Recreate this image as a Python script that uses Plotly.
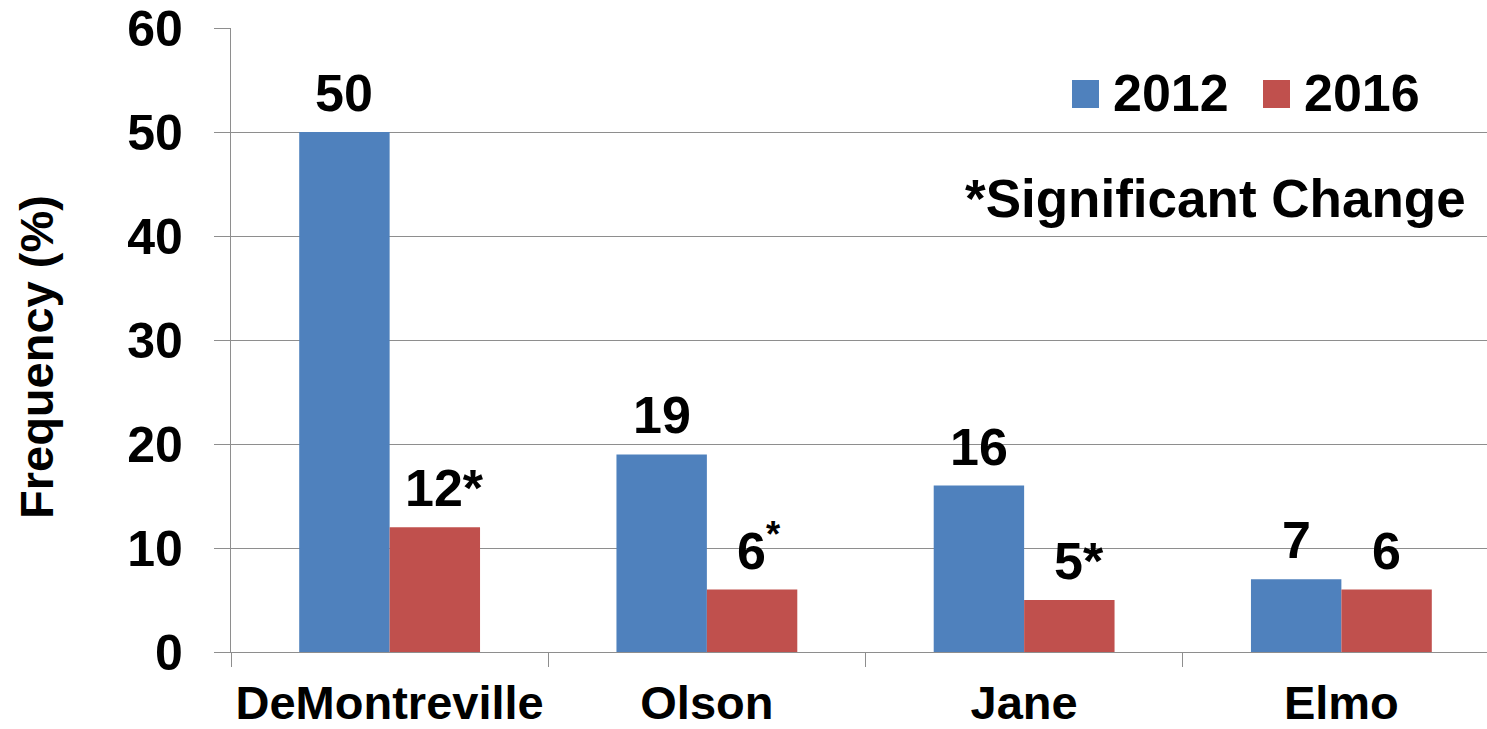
import plotly.graph_objects as go

# ---- data ----
categories = ["DeMontreville", "Olson", "Jane", "Elmo"]
series_names = ["2012", "2016"]
values_2012 = [50, 19, 16, 7]
values_2016 = [12, 6, 5, 6]
marks_2012 = ["", "", "", ""]
marks_2016 = ["*", "<sup>*</sup>", "*", ""]
y_ticks = [0, 10, 20, 30, 40, 50, 60]
note_text = "*Significant Change"
y_title = "Frequency (%)"

colors = ["#4F81BD", "#C0504D"]
axis_gray = "#8E8E8E"
FONT = "Liberation Sans, Arial, sans-serif"

W, H = 1487, 729
L, R, T, B = 231, 0, 28, 77
BARGAP = 0.43
LABEL_SIZE = 52
AST_EM = 0.389  # asterisk advance width (em) in Arial/Liberation Sans bold

def px2paper(px, py):
    return (px - L) / (W - L - R), (H - B - py) / (H - T - B)

fig = go.Figure()
series = [(values_2012, marks_2012), (values_2016, marks_2016)]
for k, (vals, marks) in enumerate(series):
    fig.add_trace(go.Bar(
        x=categories, y=vals, name=series_names[k],
        marker=dict(color=colors[k], line=dict(width=0)),
        showlegend=False,
    ))

annotations = []
# data labels above bars (number centred on bar, mark appended to the right)
for k, (vals, marks) in enumerate(series):
    off = (k - 0.5) * (1 - BARGAP) / 2
    for i, (v, m) in enumerate(zip(vals, marks)):
        if not m:
            shift = 0
        elif m.startswith("<sup>"):
            shift = AST_EM * LABEL_SIZE * 0.7 / 2
        else:
            shift = AST_EM * LABEL_SIZE / 2
        annotations.append(dict(
            x=i + off, y=v, xref="x", yref="y",
            text=f"{v}{m}", showarrow=False,
            xanchor="center", yanchor="bottom", yshift=8, xshift=shift,
            font=dict(family=FONT, size=LABEL_SIZE, color="black", weight="bold"),
        ))

# manual legend
legend_items = [(1072, series_names[0], colors[0]), (1263, series_names[1], colors[1])]
shapes = []
for sx, name, col in legend_items:
    x0, y0 = px2paper(sx, 108)
    x1, y1 = px2paper(sx + 27, 80)
    shapes.append(dict(type="rect", xref="paper", yref="paper",
                       x0=x0, y0=y0, x1=x1, y1=y1,
                       fillcolor=col, line=dict(width=0)))
    tx, ty = px2paper(sx + 39, 93)
    annotations.append(dict(
        x=tx, y=ty, xref="paper", yref="paper", text=name, showarrow=False,
        xanchor="left", yanchor="middle",
        font=dict(family=FONT, size=52, color="black", weight="bold"),
    ))

nx, ny = px2paper(1468, 198)
annotations.append(dict(
    x=nx, y=ny, xref="paper", yref="paper", text=note_text, showarrow=False,
    xanchor="right", yanchor="middle",
    font=dict(family=FONT, size=53, color="black", weight="bold"),
))

tx, ty = px2paper(36, 357)
annotations.append(dict(
    x=tx, y=ty, xref="paper", yref="paper", text=y_title, showarrow=False,
    textangle=-90, xanchor="center", yanchor="middle",
    font=dict(family=FONT, size=47, color="black", weight="bold"),
))

fig.update_layout(
    width=W, height=H, autosize=False,
    margin=dict(l=L, r=R, t=T, b=B, pad=0),
    paper_bgcolor="white", plot_bgcolor="white",
    barmode="group", bargap=BARGAP, bargroupgap=0,
    showlegend=False,
    annotations=annotations, shapes=shapes,
    font=dict(family=FONT, color="black"),
)
fig.update_xaxes(
    type="category", range=[-0.5, 3.459], automargin=False,
    showline=True, linecolor=axis_gray, linewidth=1.3,
    ticks="outside", tickson="boundaries", ticklen=14,
    tickcolor=axis_gray, tickwidth=1.3,
    showgrid=False, zeroline=False, tickangle=0,
    tickfont=dict(family=FONT, size=47, color="black", weight="bold"),
    ticklabelstandoff=9,
)
fig.update_yaxes(
    range=[0, 60], tickvals=y_ticks, ticktext=[str(t) for t in y_ticks],
    automargin=False,
    showline=True, linecolor=axis_gray, linewidth=1.3,
    ticks="outside", ticklen=16, tickcolor=axis_gray, tickwidth=1.3,
    showgrid=True, gridcolor=axis_gray, gridwidth=1.3, zeroline=False,
    tickfont=dict(family=FONT, size=50, color="black", weight="bold"),
    ticklabelstandoff=21,
)

fig.write_html("out.html")
